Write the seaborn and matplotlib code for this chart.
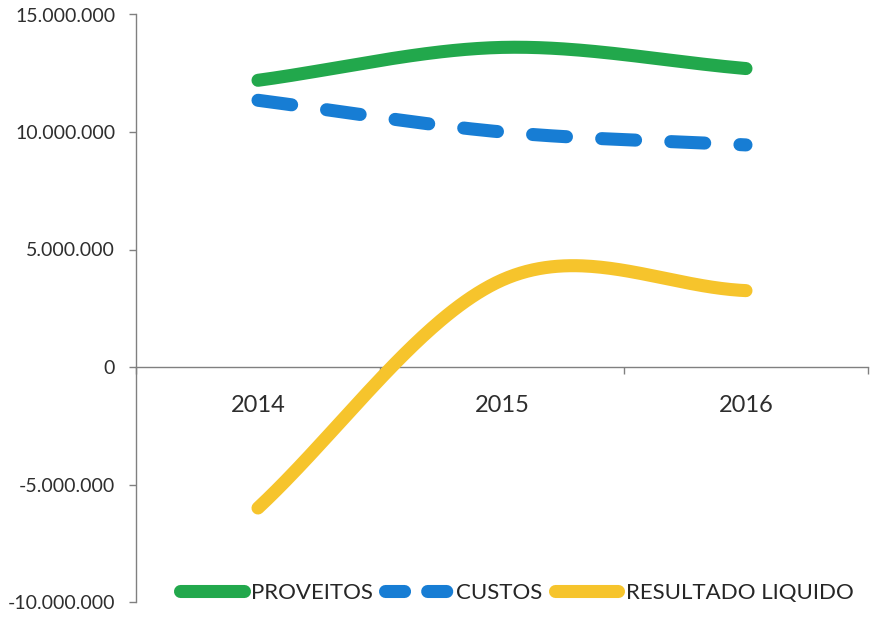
import numpy as np
import pandas as pd
import matplotlib
matplotlib.use("Agg")
import matplotlib.pyplot as plt
from matplotlib.lines import Line2D
from matplotlib.ticker import FuncFormatter, FixedLocator
import seaborn as sns

# ---- data ----
anos = ["2014", "2015", "2016"]
proveitos = [12200000, 13600000, 12700000]
custos = [11350000, 10000000, 9450000]
resultado_liquido = [-6000000, 3700000, 3250000]
series_names = ["PROVEITOS", "CUSTOS", "RESULTADO LIQUIDO"]
y_ticks = [-10000000, -5000000, 0, 5000000, 10000000, 15000000]

colors = {"PROVEITOS": "#22A84C", "CUSTOS": "#177DD4", "RESULTADO LIQUIDO": "#F6C42C"}

sns.set_theme(style="white")
plt.rcParams['font.family'] = ['Lato', 'DejaVu Sans']


def smooth_curve(values, n=80):
    """Excel-like smoothed line through the points (display only)."""
    y = np.asarray(values, dtype=float)
    k = len(y)
    m = np.empty(k)
    m[1:-1] = (y[2:] - y[:-2]) / 2.0
    m[0] = y[1] - y[0]
    m[-1] = y[-1] - y[-2]
    xs, ys = [], []
    for i in range(k - 1):
        t = np.linspace(0, 1, n, endpoint=(i == k - 2))
        h00 = 2 * t**3 - 3 * t**2 + 1
        h10 = t**3 - 2 * t**2 + t
        h01 = -2 * t**3 + 3 * t**2
        h11 = t**3 - t**2
        ys.append(h00 * y[i] + h10 * m[i] + h01 * y[i + 1] + h11 * m[i + 1])
        xs.append(i + t)
    return np.concatenate(xs), np.concatenate(ys)


fig = plt.figure(figsize=(8.81, 6.23), dpi=100)
ax = fig.add_axes([136 / 881, 1 - 602 / 623, 732 / 881, 587.5 / 623])

lw = 9.4
for name, vals in zip(series_names, [proveitos, custos, resultado_liquido]):
    sx, sy = smooth_curve(vals)
    df = pd.DataFrame({"x": sx, "y": sy})
    if name == "CUSTOS":
        sns.lineplot(data=df, x="x", y="y", ax=ax, color=colors[name], linewidth=lw,
                     linestyle=(0, (2.6, 2.7)), dash_capstyle="round", sort=False,
                     estimator=None, zorder=3)
    else:
        sns.lineplot(data=df, x="x", y="y", ax=ax, color=colors[name], linewidth=lw,
                     solid_capstyle="round", sort=False, estimator=None, zorder=3)

ax.set_xlim(-0.5, 2.5)
ax.set_ylim(-10000000, 15000000)
ax.set_xlabel("")
ax.set_ylabel("")

for s in ["top", "right"]:
    ax.spines[s].set_visible(False)
ax.spines["left"].set_color("#808080")
ax.spines["left"].set_linewidth(1.0)
ax.spines["bottom"].set_position(("data", 0))
ax.spines["bottom"].set_color("#808080")
ax.spines["bottom"].set_linewidth(1.0)

ax.set_yticks(y_ticks)
ax.yaxis.set_major_formatter(FuncFormatter(lambda v, p: f"{int(round(v)):,}".replace(",", ".")))
ax.tick_params(axis="y", which="major", direction="out", length=5, width=1,
               color="#808080", labelsize=14, labelcolor="#2e2e2e", pad=10, left=True)

ax.set_xticks(range(len(anos)))
ax.set_xticklabels(anos)
ax.xaxis.set_minor_locator(FixedLocator([-0.5, 0.5, 1.5, 2.5]))
ax.tick_params(axis="x", which="major", length=0, labelsize=17, labelcolor="#2e2e2e", pad=20)
ax.tick_params(axis="x", which="minor", direction="out", length=5, width=1,
               color="#808080", bottom=True)
ax.grid(False)

handles = [
    Line2D([], [], color=colors["PROVEITOS"], lw=lw, solid_capstyle="round"),
    Line2D([], [], color=colors["CUSTOS"], lw=lw, linestyle=(0, (1.46, 1.77)), dash_capstyle="round"),
    Line2D([], [], color=colors["RESULTADO LIQUIDO"], lw=lw, solid_capstyle="round"),
]
leg = fig.legend(handles, series_names, loc="center", bbox_to_anchor=(517 / 881, 30 / 623),
                 ncol=3, frameon=False, fontsize=16, handlelength=2.85, handletextpad=0.35,
                 columnspacing=0.55, labelcolor="#262626")

fig.savefig("out.png", dpi=100)
